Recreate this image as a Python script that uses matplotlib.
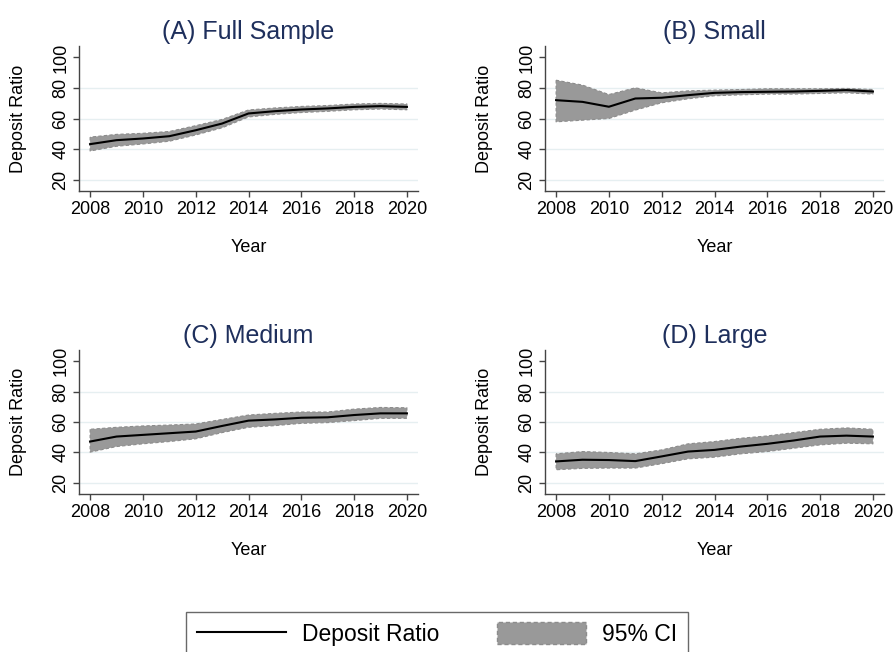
import matplotlib
matplotlib.use('Agg')
import matplotlib.pyplot as plt
from matplotlib.lines import Line2D
from matplotlib.patches import Patch

plt.rcParams['font.family'] = ['Liberation Sans', 'DejaVu Sans']

years = list(range(2008, 2021))

titles = ['(A) Full Sample', '(B) Small', '(C) Medium', '(D) Large']

# deposit ratio and 95% CI bounds
full_mean = [43.2, 45.8, 46.9, 48.4, 52.3, 56.7, 63.3, 64.8, 65.9, 66.6, 67.6, 68.1, 67.6]
full_hi = [47.8, 49.6, 50.3, 51.5, 55.3, 59.4, 65.6, 66.9, 67.9, 68.5, 69.5, 69.9, 69.5]
full_lo = [38.7, 41.8, 43.3, 45.1, 49.2, 53.9, 61.0, 62.7, 63.9, 64.7, 65.7, 66.2, 65.7]

small_mean = [72.0, 70.9, 67.7, 73.1, 73.6, 75.3, 76.8, 77.3, 77.5, 77.7, 78.1, 78.6, 77.7]
small_hi = [85.1, 81.9, 75.7, 80.1, 76.8, 78.1, 78.6, 79.0, 79.5, 79.5, 79.5, 79.7, 79.0]
small_lo = [57.8, 58.9, 60.0, 65.5, 70.3, 72.9, 74.9, 75.5, 76.0, 76.0, 76.4, 76.8, 76.0]

med_mean = [47.1, 50.4, 51.5, 52.6, 53.7, 57.4, 60.9, 61.7, 62.8, 63.1, 64.6, 65.7, 65.7]
med_hi = [55.2, 56.5, 57.4, 58.0, 58.7, 61.7, 64.6, 65.7, 66.6, 66.6, 68.5, 69.6, 69.4]
med_lo = [40.1, 43.8, 45.6, 47.1, 48.9, 53.0, 56.5, 57.6, 59.1, 59.6, 60.9, 62.4, 62.4]

large_mean = [34.0, 35.1, 34.9, 34.2, 37.3, 40.5, 41.6, 43.8, 45.6, 47.8, 50.4, 51.0, 50.4]
large_hi = [39.0, 40.5, 39.9, 39.0, 41.6, 45.6, 47.1, 49.3, 50.8, 53.0, 55.2, 56.1, 55.2]
large_lo = [28.5, 29.4, 29.6, 29.6, 32.5, 35.7, 36.8, 39.0, 40.5, 42.7, 44.9, 46.0, 45.6]

means = [full_mean, small_mean, med_mean, large_mean]
his = [full_hi, small_hi, med_hi, large_hi]
los = [full_lo, small_lo, med_lo, large_lo]

xticks = [2008, 2010, 2012, 2014, 2016, 2018, 2020]
yticks = [20, 40, 60, 80, 100]
grid_vals = [20, 40, 60, 80]

W, H = 893, 652
fig = plt.figure(figsize=(W / 100, H / 100), dpi=100)

# axes boxes in pixels: left, top, right, bottom
boxes = [(79, 46, 418, 191), (545, 46, 884, 191),
         (79, 350, 418, 494), (545, 350, 884, 494)]

title_col = '#1e2f5c'
fill_col = '#999999'
edge_col = '#8c8c8c'
spine_col = '#444444'

for i in range(4):
    l, t, r, b = boxes[i]
    ax = fig.add_axes([l / W, 1 - b / H, (r - l) / W, (b - t) / H])
    for g in grid_vals:
        ax.axhline(g, color='#e6eff1', lw=1.0, zorder=0)
    ax.fill_between(years, los[i], his[i], facecolor=fill_col, edgecolor=edge_col,
                    linestyle=(0, (3, 2)), linewidth=0.8, zorder=2)
    ax.plot(years, means[i], color='black', lw=1.5, zorder=3)

    ax.set_xlim(2007.58, 2020.42)
    ax.set_ylim(12.5, 107.5)
    ax.set_xticks(xticks)
    ax.set_yticks(yticks)
    ax.set_yticklabels([str(v) for v in yticks], rotation=90, va='center')
    ax.tick_params(axis='both', labelsize=13, color=spine_col, length=4, width=1,
                   pad=3)
    for s in ['top', 'right']:
        ax.spines[s].set_visible(False)
    for s in ['left', 'bottom']:
        ax.spines[s].set_color(spine_col)
        ax.spines[s].set_linewidth(1.0)

    ax.set_title(titles[i], fontsize=18, color=title_col, pad=5)
    ax.set_ylabel('Deposit Ratio', fontsize=13, labelpad=18)
    ax.set_xlabel('Year', fontsize=13, labelpad=15)

# legend at the bottom, its frame runs off the lower edge
handles = [Line2D([0], [0], color='black', lw=1.5),
           Patch(facecolor=fill_col, edgecolor=edge_col, linestyle=(0, (3, 2)), linewidth=1.0)]
leg = fig.legend(handles, ['Deposit Ratio', '95% CI'], loc='upper center',
                 bbox_to_anchor=(437 / W, 1 - 612 / H), ncol=2, fontsize=16.5,
                 frameon=True, fancybox=False, edgecolor='#444444',
                 handlelength=3.9, handleheight=1.1, columnspacing=2.5,
                 handletextpad=0.7, borderpad=0.45, borderaxespad=0)
leg.get_frame().set_linewidth(1.0)

fig.savefig('out.png', dpi=100)
